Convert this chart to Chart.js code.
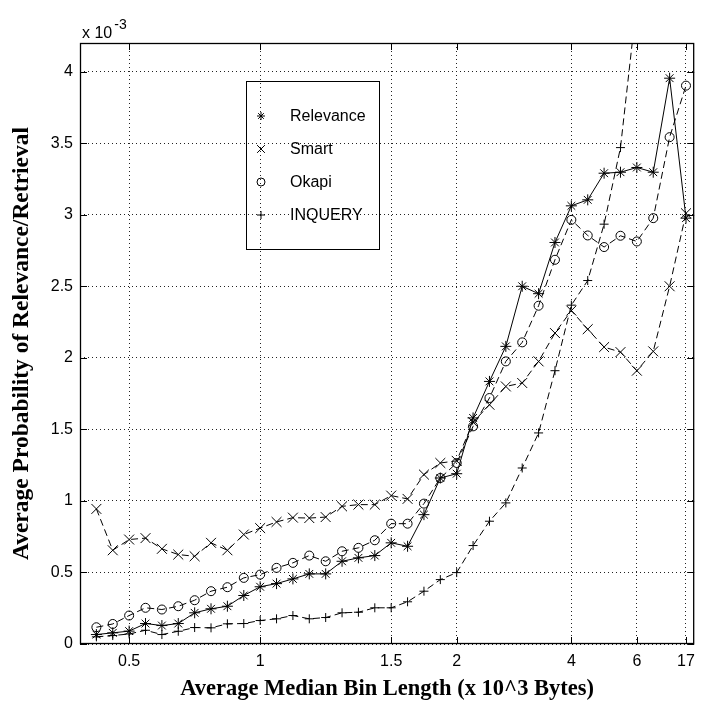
<!DOCTYPE html>
<html><head><meta charset="utf-8">
<script src="https://cdn.jsdelivr.net/npm/chart.js@4.4.1/dist/chart.umd.min.js"></script>
<style>html,body{margin:0;padding:0;background:#fff;}#wrap{width:703px;height:703px;}</style>
</head><body><div id="wrap"><canvas id="c" width="703" height="703"></canvas></div>
<script>
// Bin index (position on the x axis) and the tick labels placed on it
const binIndex = [1,2,3,4,5,6,7,8,9,10,11,12,13,14,15,16,17,18,19,20,21,22,23,24,25,26,27,28,29,30,31,32,33,34,35,36,37];
const xTickPositions = [3,11,19,23,30,34,37];
const xTickLabels = ['0.5','1','1.5','2','4','6','17'];
const yTickValues = [0,0.5,1,1.5,2,2.5,3,3.5,4];

const seriesNames = ['Relevance','Smart','Okapi','INQUERY'];
// values in units of 10^-3
const relevance = [0.066,0.078,0.09,0.143,0.129,0.143,0.218,0.246,0.264,0.339,0.40,0.422,0.455,0.49,0.49,0.578,0.602,0.618,0.707,0.683,0.904,1.16,1.19,1.58,1.835,2.08,2.50,2.448,2.806,3.062,3.104,3.29,3.297,3.33,3.297,3.954,2.976];
const smart = [0.944,0.655,0.73,0.74,0.665,0.625,0.613,0.707,0.655,0.765,0.81,0.853,0.883,0.88,0.887,0.962,0.974,0.974,1.037,1.014,1.184,1.265,1.28,1.55,1.672,1.80,1.824,1.975,2.173,2.33,2.2,2.075,2.04,1.91,2.045,2.50,3.01];
const okapi = [0.117,0.14,0.199,0.253,0.241,0.264,0.306,0.369,0.397,0.462,0.485,0.532,0.567,0.618,0.578,0.648,0.672,0.725,0.841,0.841,0.981,1.16,1.265,1.521,1.719,1.975,2.108,2.364,2.685,2.964,2.855,2.774,2.853,2.813,2.976,3.542,3.902];
const inquery = [0.05,0.059,0.07,0.096,0.066,0.089,0.115,0.113,0.141,0.143,0.164,0.176,0.199,0.176,0.185,0.218,0.222,0.253,0.253,0.295,0.369,0.45,0.499,0.688,0.858,0.986,1.23,1.475,1.91,2.368,2.54,2.934,3.469,4.49,null,null,null];

const seriesValues = [relevance, smart, okapi, inquery];
const pointStyles = ['star','crossRot','circle','cross'];
const pointRadii = [5.5,7,4.5,4.5];
const dashes = [[],[7,4],[7,4],[7,4]];

const datasets = seriesNames.map((name, k) => ({
  label: name,
  data: binIndex.map((x, i) => ({x: x, y: seriesValues[k][i]})),
  borderColor: '#000',
  borderWidth: 1,
  borderDash: dashes[k],
  pointStyle: pointStyles[k],
  pointRadius: pointRadii[k],
  pointBorderWidth: 1,
  pointBorderColor: '#000',
  pointBackgroundColor: 'rgba(0,0,0,0)',
  pointHoverRadius: pointRadii[k],
  tension: 0,
  fill: false,
  spanGaps: false
}));

const framePlugin = {
  id: 'frame',
  afterDraw(chart) {
    const ctx = chart.ctx, a = chart.chartArea;
    const xs = chart.scales.x, ys = chart.scales.y;
    ctx.save();
    ctx.strokeStyle = '#000';
    ctx.lineWidth = 1.3;
    ctx.setLineDash([]);
    ctx.strokeRect(a.left + 0.5, a.top + 0.5, a.right - a.left - 1, a.bottom - a.top - 1);
    const tl = 7;
    ctx.lineWidth = 1;
    ctx.beginPath();
    xTickPositions.forEach(v => {
      const px = Math.round(xs.getPixelForValue(v)) + 0.5;
      ctx.moveTo(px, a.bottom); ctx.lineTo(px, a.bottom - tl);
      ctx.moveTo(px, a.top); ctx.lineTo(px, a.top + tl);
    });
    yTickValues.forEach(v => {
      const py = Math.round(ys.getPixelForValue(v)) + 0.5;
      ctx.moveTo(a.left, py); ctx.lineTo(a.left + tl, py);
      ctx.moveTo(a.right, py); ctx.lineTo(a.right - tl, py);
    });
    ctx.stroke();
    // exponent label
    ctx.fillStyle = '#000';
    ctx.textBaseline = 'alphabetic';
    ctx.textAlign = 'left';
    ctx.font = '16px "Liberation Sans", Arial, sans-serif';
    ctx.fillText('x 10', 82, 38);
    const w = ctx.measureText('x 10').width;
    ctx.font = '14px "Liberation Sans", Arial, sans-serif';
    ctx.fillText('-3', 82 + w + 2, 29);
    // legend
    const lx = 246, ly = 81, lw = 133, lh = 168;
    ctx.lineWidth = 1;
    ctx.strokeRect(lx + 0.5, ly + 0.5, lw, lh);
    const rows = [116, 149, 182, 215];
    ctx.font = '16px "Liberation Sans", Arial, sans-serif';
    ctx.textBaseline = 'middle';
    chart.data.datasets.forEach((ds, k) => {
      ctx.strokeStyle = '#000';
      ctx.fillStyle = 'rgba(0,0,0,0)';
      ctx.lineWidth = 1;
      Chart.helpers.drawPoint(ctx, {pointStyle: ds.pointStyle, radius: k === 1 ? 5.5 : 4, borderWidth: 1, rotation: 0}, 261, rows[k]);
      ctx.fillStyle = '#000';
      ctx.fillText(ds.label, 290, rows[k] + 1);
    });
    ctx.restore();
  }
};

new Chart(document.getElementById('c'), {
  type: 'line',
  data: {datasets},
  plugins: [framePlugin],
  options: {
    responsive: false,
    animation: false,
    devicePixelRatio: 1,
    layout: {padding: {top: 43, right: 3, left: 0, bottom: 0}},
    plugins: {legend: {display: false}, tooltip: {enabled: false}},
    scales: {
      x: {
        type: 'linear', min: 0, max: 37.5,
        afterFit(s) { s.height = 59; },
        afterBuildTicks(s) { s.ticks = xTickPositions.map(v => ({value: v})); },
        grid: {color: '#222', lineWidth: 1, drawTicks: false},
        border: {display: false, dash: [1, 3]},
        ticks: {
          autoSkip: false, maxRotation: 0, padding: 8, color: '#000',
          font: {family: '"Liberation Sans", Arial, sans-serif', size: 16},
          callback: (v, i) => xTickLabels[i]
        },
        title: {display: true, text: 'Average Median Bin Length (x 10^3 Bytes)', color: '#000',
          font: {family: '"Liberation Serif", "Times New Roman", serif', size: 22.5, weight: 'bold'},
          padding: {top: 0, bottom: 0}}
      },
      y: {
        type: 'linear', min: 0, max: 4.2,
        afterFit(s) { s.width = 80; },
        afterBuildTicks(s) { s.ticks = yTickValues.map(v => ({value: v})); },
        grid: {color: '#222', lineWidth: 1, drawTicks: false},
        border: {display: false, dash: [1, 3]},
        ticks: {
          padding: 7, color: '#000',
          font: {family: '"Liberation Sans", Arial, sans-serif', size: 16},
          callback: (v) => String(v)
        },
        title: {display: true, text: 'Average Probability of Relevance/Retrieval', color: '#000',
          font: {family: '"Liberation Serif", "Times New Roman", serif', size: 23.5, weight: 'bold'},
          padding: {top: 8, bottom: 0}}
      }
    }
  }
});
</script>
</body></html>
